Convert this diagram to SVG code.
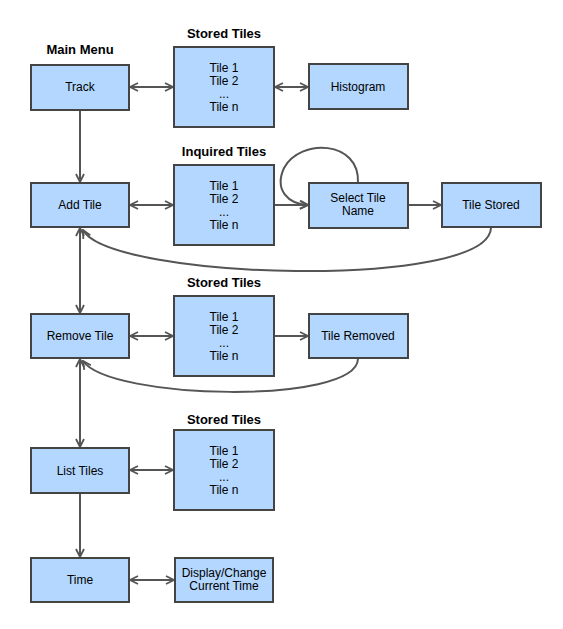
<svg xmlns="http://www.w3.org/2000/svg" width="563" height="629" viewBox="0 0 563 629">
<defs>
<marker id="ah" viewBox="0 0 10 10" refX="9" refY="5" markerWidth="10" markerHeight="10" markerUnits="userSpaceOnUse" orient="auto-start-reverse">
<path d="M1,1 L9,5 L1,9" fill="none" stroke="#555" stroke-width="1.8"/>
</marker>
<style>
.box{fill:#b3d7ff;stroke:#444;stroke-width:2}
.t{font-family:"Liberation Sans",Arial,sans-serif;font-size:12px;fill:#000;text-anchor:middle}
.h{font-family:"Liberation Sans",Arial,sans-serif;font-size:13px;font-weight:bold;fill:#000;text-anchor:middle}
.c{fill:none;stroke:#555;stroke-width:2}
.one{marker-end:url(#ah)}
.two{marker-start:url(#ah);marker-end:url(#ah)}
</style>
</defs>
<rect width="563" height="629" fill="#fff"/>
<g id="labels">
<text class="h" x="80" y="54">Main Menu</text>
<text class="h" x="224" y="38">Stored Tiles</text>
<text class="h" x="224" y="156">Inquired Tiles</text>
<text class="h" x="224" y="287">Stored Tiles</text>
<text class="h" x="224" y="424">Stored Tiles</text>
</g>
<g id="connectors">
<path class="c one" d="M80,110 L80,182"/>
<path class="c two" d="M80,228 L80,313"/>
<path class="c two" d="M80,359 L80,447"/>
<path class="c one" d="M80,493 L80,557"/>
<path class="c two" d="M130,87 L173,87"/>
<path class="c two" d="M275,87 L308,87"/>
<path class="c two" d="M130,205 L173,205"/>
<path class="c one" d="M275,205 L308,205"/>
<path class="c one" d="M409,205 L441,205"/>
<path class="c one" d="M358,183 C360,140 300,138 284,168 C274,190 288,204 308,205"/>
<path class="c one" d="M491,228 C488,290 110,280 83,230"/>
<path class="c two" d="M130,336 L173,336"/>
<path class="c one" d="M275,336 L308,336"/>
<path class="c one" d="M358,359 C356,405 110,400 83,361"/>
<path class="c two" d="M130,470 L173,470"/>
<path class="c two" d="M130,580 L174,580"/>
</g>
<g id="track"><rect class="box" x="31" y="65" width="98" height="45"/><text class="t" x="80" y="91">Track</text></g>
<g id="stored1"><rect class="box" x="174" y="47" width="100" height="80"/>
<text class="t" x="224" y="72">Tile 1</text><text class="t" x="224" y="85">Tile 2</text><text class="t" x="224" y="98">...</text><text class="t" x="224" y="111">Tile n</text></g>
<g id="histogram"><rect class="box" x="309" y="64" width="99" height="45"/><text class="t" x="358" y="91">Histogram</text></g>
<g id="addtile"><rect class="box" x="31" y="183" width="98" height="44"/><text class="t" x="80" y="209">Add Tile</text></g>
<g id="inquired"><rect class="box" x="174" y="165" width="100" height="80"/>
<text class="t" x="224" y="190">Tile 1</text><text class="t" x="224" y="203">Tile 2</text><text class="t" x="224" y="216">...</text><text class="t" x="224" y="229">Tile n</text></g>
<g id="selecttile"><rect class="box" x="309" y="183" width="99" height="45"/><text class="t" x="358" y="202">Select Tile</text><text class="t" x="358" y="215">Name</text></g>
<g id="tilestored"><rect class="box" x="442" y="183" width="99" height="44"/><text class="t" x="491" y="209">Tile Stored</text></g>
<g id="removetile"><rect class="box" x="31" y="314" width="98" height="44"/><text class="t" x="80" y="340">Remove Tile</text></g>
<g id="stored2"><rect class="box" x="174" y="296" width="100" height="80"/>
<text class="t" x="224" y="321">Tile 1</text><text class="t" x="224" y="334">Tile 2</text><text class="t" x="224" y="347">...</text><text class="t" x="224" y="360">Tile n</text></g>
<g id="tileremoved"><rect class="box" x="309" y="314" width="99" height="44"/><text class="t" x="358" y="340">Tile Removed</text></g>
<g id="listtiles"><rect class="box" x="31" y="448" width="98" height="45"/><text class="t" x="80" y="475">List Tiles</text></g>
<g id="stored3"><rect class="box" x="174" y="430" width="100" height="80"/>
<text class="t" x="224" y="455">Tile 1</text><text class="t" x="224" y="468">Tile 2</text><text class="t" x="224" y="481">...</text><text class="t" x="224" y="494">Tile n</text></g>
<g id="time"><rect class="box" x="31" y="558" width="98" height="44"/><text class="t" x="80" y="584">Time</text></g>
<g id="display"><rect class="box" x="175" y="558" width="98" height="44"/><text class="t" x="224" y="577">Display/Change</text><text class="t" x="224" y="590">Current Time</text></g>
</svg>
